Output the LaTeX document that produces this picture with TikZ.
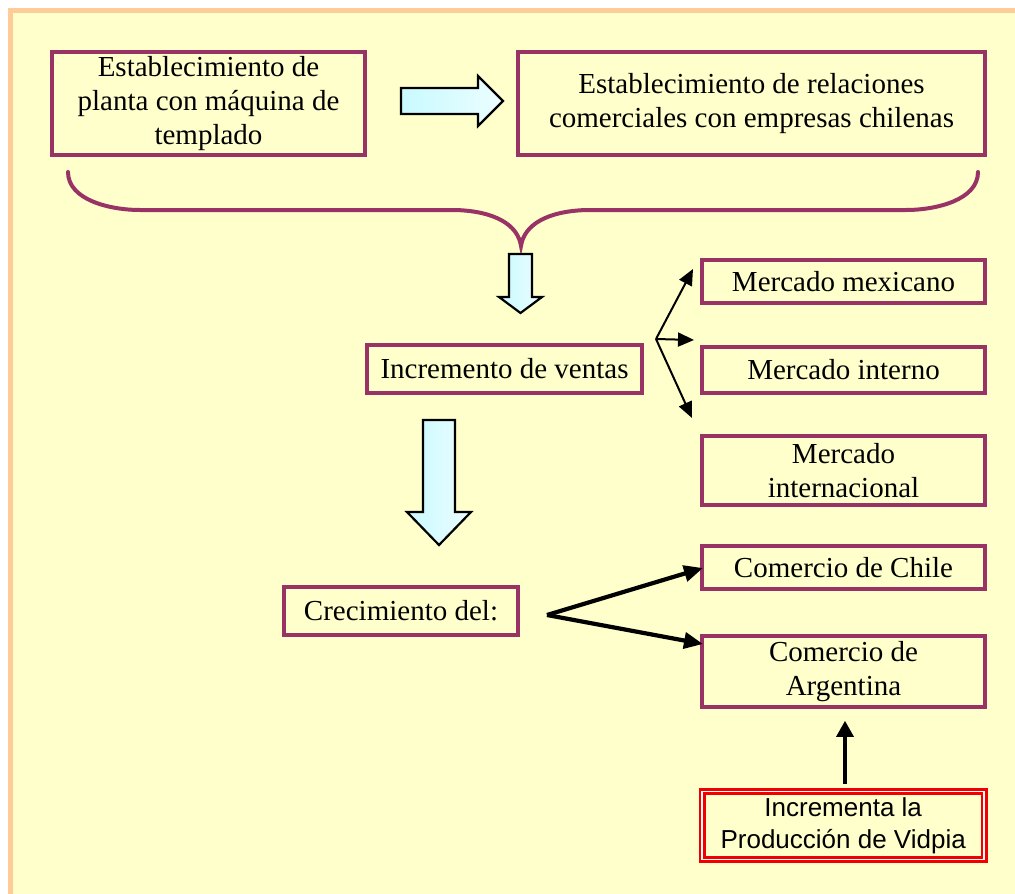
\documentclass[tikz,border=0pt]{standalone}
\usepackage{fontspec}
\setmainfont{Liberation Serif}
\newfontfamily\arialfont{Liberation Sans}
\usetikzlibrary{arrows.meta,calc}
\definecolor{pagebg}{RGB}{255,255,204}
\definecolor{frameorange}{RGB}{255,204,153}
\definecolor{boxline}{RGB}{153,51,102}
\definecolor{arrowcyan}{RGB}{200,250,255}
\definecolor{framered}{RGB}{240,0,0}

\begin{document}
\begin{tikzpicture}[x=1pt,y=-1pt,
  box/.style={draw=boxline,line width=3.6pt,rectangle,inner sep=0pt,align=center,
    font=\fontsize{29}{34}\selectfont},
  redbox/.style={draw=framered,double=white,line width=2.6pt,double distance=1.5pt,
    rectangle,inner sep=0pt,align=center,font=\arialfont\fontsize{26}{32}\selectfont},
  blockarrow/.style={draw=black,line width=2.2pt,line join=miter,
    left color=arrowcyan,right color=arrowcyan!35!white},
  thinarrow/.style={draw=black,line width=2pt,-{Triangle[length=16pt,width=14pt]}},
  thickarrow/.style={draw=black,line width=4.2pt,-{Triangle[length=19pt,width=16pt]}},
  brace/.style={draw=boxline,line width=4pt,line cap=round}
]
\useasboundingbox (0,0) rectangle (1015,894);

% page background with its orange frame
\fill[white] (0,0) rectangle (1015,894);
\fill[frameorange] (8,8) rectangle (1015,894);
\fill[pagebg] (13,13) rectangle (1015,894);

% top row
\node[box,minimum width=313,minimum height=103] (planta) at (208.5,103.5)
  {Establecimiento de\\planta con máquina de\\templado};
\node[box,minimum width=467,minimum height=103] (relac) at (751.5,103.5)
  {Establecimiento de relaciones\\comerciales con empresas chilenas};

% right-pointing block arrow between the two top boxes
\draw[blockarrow] (401,88) -- (478,88) -- (478,76) -- (503,101) -- (478,126)
  -- (478,114) -- (401,114) -- cycle;

% brace gathering the top row
\coordinate (braceL) at (68,172);
\coordinate (braceR) at (978,172);
\coordinate (braceTip) at (521,246);
\draw[brace] (braceL) .. controls (68,200) and (110,210) .. (140,210) -- (455,210)
  .. controls (495,211) and (518,225) .. (braceTip)
  .. controls (524,225) and (547,211) .. (587,210) -- (906,210)
  .. controls (936,210) and (978,200) .. (braceR);

% small down block arrow
\draw[blockarrow] (509,254) -- (532,254) -- (532,297) -- (542,297) -- (520.5,313)
  -- (499,297) -- (509,297) -- cycle;

% sales and markets
\node[box,minimum width=275,minimum height=48] (ventas) at (504.5,369) {Incremento de ventas};
\node[box,minimum width=283,minimum height=43] (mex) at (843.5,281.5) {Mercado mexicano};
\node[box,minimum width=283,minimum height=46] (interno) at (843.5,370) {Mercado interno};
\node[box,minimum width=283,minimum height=69] (internac) at (843.5,470.5) {Mercado\\internacional};

\coordinate (fork1) at (656,339);
\coordinate (tipMex) at (693,269);
\coordinate (tipInt) at (694,340);
\coordinate (tipIntl) at (692,418);
\draw[thinarrow] (fork1) -- (tipMex);
\draw[thinarrow] (fork1) -- (tipInt);
\draw[thinarrow] (fork1) -- (tipIntl);

% big down block arrow
\draw[blockarrow] (423,420) -- (455,420) -- (455,512) -- (471,512) -- (439,545)
  -- (407,512) -- (423,512) -- cycle;

% growth
\node[box,minimum width=234,minimum height=48] (crec) at (401,611) {Crecimiento del:};
\node[box,minimum width=283,minimum height=43] (chile) at (843.5,567.5) {Comercio de Chile};
\node[box,minimum width=283,minimum height=71] (arg) at (843.5,671.5) {Comercio de\\Argentina};

\coordinate (fork2) at (547,615);
\coordinate (tipChile) at (703,568);
\coordinate (tipArg) at (703,644);
\draw[thickarrow] (fork2) -- (tipChile);
\draw[thickarrow] (fork2) -- (tipArg);

% production box
\node[redbox,minimum width=282,minimum height=68] (vidpia) at (843.2,825.5)
  {Incrementa la\\Producción de Vidpia};
\draw[draw=black,line width=3.2pt,-{Triangle[length=16pt,width=17pt]},
  shorten <=6pt,shorten >=12pt] (vidpia.north -| 845,0) -- (arg.south -| 845,0);
\end{tikzpicture}
\end{document}
